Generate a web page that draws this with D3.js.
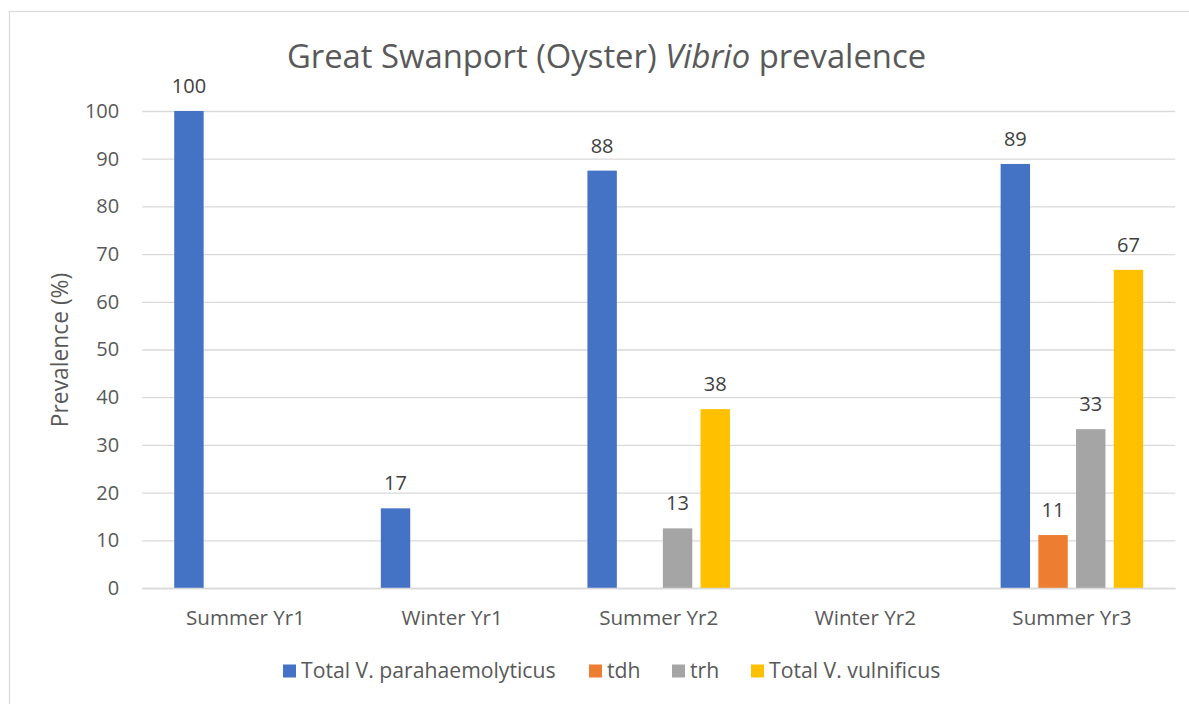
<!DOCTYPE html>
<html>
<head>
<meta charset="utf-8">
<script src="https://cdn.jsdelivr.net/npm/d3@7"></script>
<style>
  html, body { margin: 0; padding: 0; background: #ffffff; }
  svg { display: block; font-family: "Open Sans", "Noto Sans", sans-serif; }
</style>
</head>
<body>
<svg id="chart" width="1189" height="704"></svg>
<script>
const categories = ["Summer Yr1", "Winter Yr1", "Summer Yr2", "Winter Yr2", "Summer Yr3"];
const seriesNames = ["Total V. parahaemolyticus", "tdh", "trh", "Total V. vulnificus"];
const totalVp = [100, 16.7, 87.5, null, 88.9];
const tdh = [null, null, null, null, 11.1];
const trh = [null, null, 12.5, null, 33.3];
const totalVv = [null, null, 37.5, null, 66.7];
const seriesColors = ["#4472C4", "#ED7D31", "#A5A5A5", "#FFC000"];
const yTicks = [0, 10, 20, 30, 40, 50, 60, 70, 80, 90, 100];
const yAxisTitle = "Prevalence (%)";
const titleParts = [
  { text: "Great Swanport (Oyster) ", italic: false },
  { text: "Vibrio", italic: true },
  { text: " prevalence", italic: false }
];

const seriesValues = [totalVp, tdh, trh, totalVv];

const svg = d3.select("#chart");
const plot = { left: 142.2, right: 1175.2, top: 111, bottom: 588 };

// chart area border
svg.append("rect")
  .attr("x", 9.5).attr("y", 11.5)
  .attr("width", 1200).attr("height", 720)
  .attr("fill", "#ffffff").attr("stroke", "#d9d9d9").attr("stroke-width", 1.2);

const x = d3.scaleBand().domain(categories).range([plot.left, plot.right]).padding(0);
const bw = x.bandwidth();
const xi = d3.scaleBand().domain(seriesNames)
  .range([bw * 0.155, bw * 0.845]).paddingInner(0.22).paddingOuter(0);
const y = d3.scaleLinear().domain([0, 100]).range([plot.bottom, plot.top]);

// gridlines + y tick labels
const yAxis = d3.axisLeft(y).tickValues(yTicks).tickSize(-(plot.right - plot.left)).tickPadding(23).tickFormat(d3.format("d"));
const gy = svg.append("g").attr("transform", `translate(${plot.left},0)`).call(yAxis);
gy.select(".domain").remove();
gy.selectAll(".tick line").attr("stroke", "#d9d9d9").attr("stroke-width", 1.3);
gy.selectAll(".tick text").attr("fill", "#595959").attr("font-size", 20)
  .attr("font-family", "'Open Sans', sans-serif");

// bars
const data = [];
categories.forEach((c, ci) => {
  seriesNames.forEach((s, si) => {
    const v = seriesValues[si][ci];
    if (v !== null && v !== undefined) data.push({ c, s, si, v });
  });
});

svg.append("g").selectAll("rect").data(data).enter().append("rect")
  .attr("x", d => x(d.c) + xi(d.s))
  .attr("y", d => y(d.v))
  .attr("width", xi.bandwidth())
  .attr("height", d => y(0) - y(d.v))
  .attr("fill", d => seriesColors[d.si]);

// data labels
svg.append("g").selectAll("text").data(data).enter().append("text")
  .attr("x", d => x(d.c) + xi(d.s) + xi.bandwidth() / 2)
  .attr("y", d => y(d.v) - 18)
  .attr("text-anchor", "middle")
  .attr("font-size", 20)
  .attr("fill", "#404040")
  .text(d => d3.format(".0f")(d.v));

// x axis
const xAxis = d3.axisBottom(x).tickSize(0).tickPadding(22);
const gx = svg.append("g").attr("transform", `translate(0,${plot.bottom})`).call(xAxis);
gx.select(".domain").attr("stroke", "#d9d9d9").attr("stroke-width", 1.5);
gx.selectAll(".tick text").attr("fill", "#595959").attr("font-size", 20.6)
  .attr("font-family", "'Open Sans', sans-serif");

// title
const title = svg.append("text")
  .attr("x", 606.5).attr("y", 68)
  .attr("text-anchor", "middle")
  .attr("font-size", 32.8)
  .attr("fill", "#595959");
title.selectAll("tspan").data(titleParts).enter().append("tspan")
  .attr("font-style", d => d.italic ? "italic" : "normal")
  .text(d => d.text);

// y axis title
svg.append("text")
  .attr("transform", `translate(68,350) rotate(-90)`)
  .attr("text-anchor", "middle")
  .attr("font-size", 22.8)
  .attr("fill", "#595959")
  .text(yAxisTitle);

// legend
const legendItems = [
  { name: seriesNames[0], color: seriesColors[0], x: 283 },
  { name: seriesNames[1], color: seriesColors[1], x: 589 },
  { name: seriesNames[2], color: seriesColors[2], x: 672 },
  { name: seriesNames[3], color: seriesColors[3], x: 751 }
];
const li = svg.append("g").selectAll("g").data(legendItems).enter().append("g")
  .attr("transform", d => `translate(${d.x},671)`);
li.append("rect").attr("x", 0).attr("y", -6.5).attr("width", 13).attr("height", 13)
  .attr("fill", d => d.color);
li.append("text").attr("x", 18).attr("y", 0).attr("dy", "0.35em")
  .attr("font-size", 21.2).attr("fill", "#595959")
  .text(d => d.name);
</script>
</body>
</html>
